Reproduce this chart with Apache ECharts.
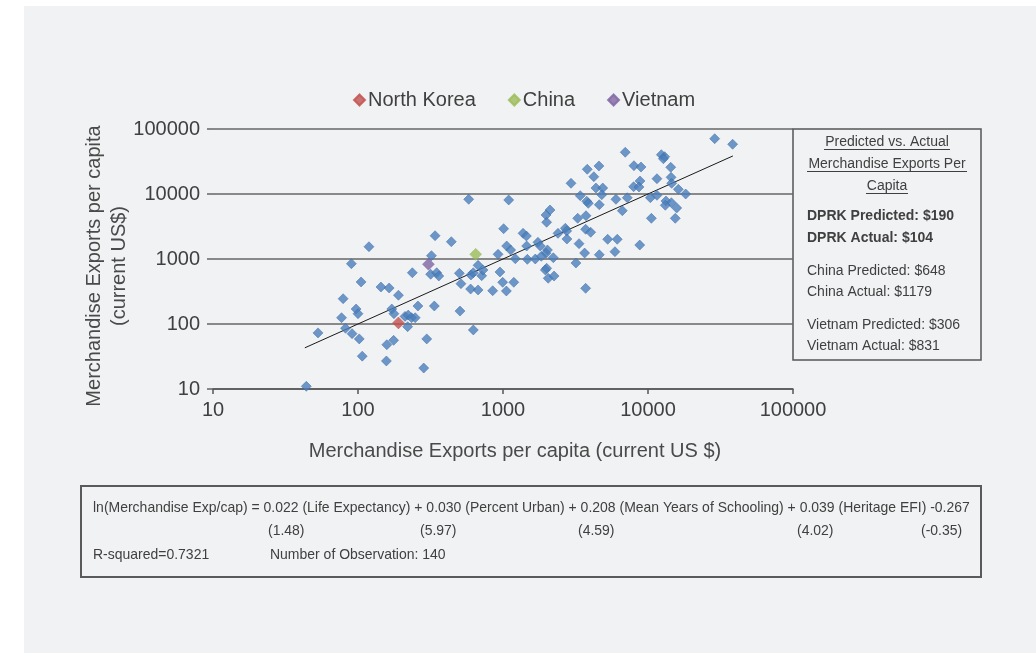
<!DOCTYPE html>
<html>
<head>
<meta charset="utf-8">
<script src="https://cdn.jsdelivr.net/npm/echarts@6/dist/echarts.min.js"></script>
<style>
  html, body { margin: 0; padding: 0; background: #fff; }
  #chart { width: 1036px; height: 653px; }
</style>
</head>
<body>
<div id="chart"></div>
<script>
// predicted (x) vs actual (y) merchandise exports per capita, current US$
const otherX = [340, 440, 119, 321, 925, 90, 673, 237, 317, 349, 361, 500, 513, 601, 624, 713, 728, 105, 144, 164,
  190, 79, 598, 673, 849, 97, 100, 171, 177, 259, 336, 505, 77, 211, 222, 234, 248, 220, 82, 53,
  91, 102, 624, 176, 158, 298, 107, 157, 284, 44, 953, 3810, 4590, 4230, 2945, 4375, 4875, 4800, 3410, 3780,
  3875, 4615, 6010, 580, 1095, 2110, 1980, 2000, 3275, 3735, 1010, 1375, 1450, 2395, 2690, 2750, 2760, 3715, 4025, 5270,
  6135, 3345, 1060, 1130, 1457, 1742, 1806, 2025, 1980, 3655, 4615, 5915, 1216, 1472, 1670, 1837, 2223, 3185, 995, 1187,
  1055, 2000, 1958, 2050, 2250, 3715, 28840, 38350, 6965, 12360, 13030, 12760, 8000, 8950, 14350, 11530, 14420, 14560, 8810, 7960,
  8670, 16180, 18200, 7195, 10380, 11530, 13300, 14490, 13160, 15780, 6650, 10550, 15420, 8770]
const otherY = [2280, 1845, 1545, 1125, 1180, 847, 800, 615, 582, 615, 547, 603, 417, 568, 615, 553, 678, 443, 371, 358,
  277, 245, 345, 334, 325, 170, 144, 170, 144, 189, 189, 158, 125, 131, 137, 125, 125, 91, 86, 73,
  71, 59, 81, 56, 48, 59, 32, 27, 21, 11, 631, 24000, 27000, 18450, 14620, 12360, 12360, 9750, 9420, 7730,
  7190, 6840, 8280, 8280, 8090, 5675, 4755, 3675, 4225, 4630, 2925, 2485, 2260, 2485, 2965, 2700, 2030, 2865, 2575, 2010,
  2010, 1720, 1585, 1375, 1585, 1807, 1585, 1375, 1225, 1235, 1163, 1295, 1010, 988, 1000, 1100, 1047, 867, 438, 438,
  322, 719, 678, 505, 547, 354, 71000, 58200, 43850, 40270, 37500, 34900, 27220, 26000, 25760, 17180, 18060, 14620, 15850, 12940,
  12820, 11800, 10000, 8770, 8770, 9550, 7800, 7350, 6700, 6095, 5535, 4225, 4225, 1640]

const highlightNames = ['North Korea', 'China', 'Vietnam']
const highlightPredicted = [190, 648, 306]
const highlightActual = [104, 1179, 831]
const highlightColors = ['#c0504d', '#9bbb59', '#8064a2']

const fitLine = [43, 38500]
const tickLabels = ['10', '100', '1000', '10000', '100000']

const FONT = '"Liberation Sans", Arial, sans-serif'
const TXT = '#404040'

const chart = echarts.init(document.getElementById('chart'))

const others = otherX.map((x, i) => [x, otherY[i]])

const series = [
  {
    name: 'fit',
    type: 'line',
    data: fitLine.map(v => [v, v]),
    symbol: 'none',
    lineStyle: { color: '#1a1a1a', width: 1 },
    z: 1,
    silent: true
  },
  {
    name: 'Other',
    type: 'scatter',
    data: others,
    symbol: 'diamond',
    symbolSize: 10,
    itemStyle: { color: '#4a7ebb', borderColor: '#3c69a3', borderWidth: 0.6 },
    z: 2
  }
]
highlightNames.forEach((n, i) => {
  series.push({
    name: n,
    type: 'scatter',
    data: [[highlightPredicted[i], highlightActual[i]]],
    symbol: 'diamond',
    symbolSize: 12,
    itemStyle: { color: highlightColors[i], borderColor: highlightColors[i], borderWidth: 0.5 },
    z: 3
  })
})

const logLabel = v => tickLabels[Math.round(Math.log10(v)) - 1] || ''

// right-hand info box
const boxLines = [
  { t: 'DPRK Predicted: $190', y: 216, bold: true },
  { t: 'DPRK Actual: $104', y: 238, bold: true },
  { t: 'China Predicted: $648', y: 271 },
  { t: 'China Actual: $1179', y: 292 },
  { t: 'Vietnam Predicted: $306', y: 325 },
  { t: 'Vietnam Actual: $831', y: 346 }
]
const titleLines = [
  { t: 'Predicted vs. Actual', y: 142, u: [824, 950] },
  { t: 'Merchandise Exports Per', y: 164, u: [807, 967] },
  { t: 'Capita', y: 186, u: [866, 908] }
]

const graphic = [
  { type: 'rect', shape: { x: 24, y: 6, width: 1012, height: 647 }, style: { fill: '#f1f2f4' }, z: -10, silent: true },
  { type: 'rect', shape: { x: 793, y: 129, width: 188, height: 231 }, style: { fill: 'none', stroke: '#555', lineWidth: 1.5 } },
  { type: 'rect', shape: { x: 81, y: 486, width: 900, height: 91 }, style: { fill: 'none', stroke: '#5a5a5a', lineWidth: 2 } },
  {
    type: 'text', x: 107, y: 266, rotation: Math.PI / 2,
    style: { text: 'Merchandise Exports per capita\n(current US$)', font: '20px ' + FONT, fill: '#4a4a4a', textAlign: 'center', textVerticalAlign: 'middle', lineHeight: 25 }
  },
  {
    type: 'text', x: 515, y: 451,
    style: { text: 'Merchandise Exports per capita (current US $)', font: '20px ' + FONT, fill: '#4a4a4a', textAlign: 'center', textVerticalAlign: 'middle' }
  }
]
titleLines.forEach(l => {
  graphic.push({ type: 'text', x: 887, y: l.y, style: { text: l.t, font: '14px ' + FONT, fill: TXT, textAlign: 'center', textVerticalAlign: 'middle' } })
  graphic.push({ type: 'line', shape: { x1: l.u[0], y1: l.y + 7.5, x2: l.u[1], y2: l.y + 7.5 }, style: { stroke: TXT, lineWidth: 1 } })
})
boxLines.forEach(l => {
  graphic.push({ type: 'text', x: 807, y: l.y, style: { text: l.t, font: (l.bold ? 'bold ' : '') + '14px ' + FONT, fill: TXT, textAlign: 'left', textVerticalAlign: 'middle' } })
})

// regression equation box (condensed look: larger font squeezed horizontally)
const eqFont = '15px ' + FONT
const eqTexts = [
  { t: 'ln(Merchandise Exp/cap) = 0.022 (Life Expectancy) + 0.030 (Percent Urban) + 0.208 (Mean Years of Schooling) + 0.039 (Heritage EFI) -0.267', x: 93, y: 508 },
  { t: '(1.48)', x: 268, y: 531 },
  { t: '(5.97)', x: 420, y: 531 },
  { t: '(4.59)', x: 578, y: 531 },
  { t: '(4.02)', x: 797, y: 531 },
  { t: '(-0.35)', x: 921, y: 531 },
  { t: 'R-squared=0.7321', x: 93, y: 555 },
  { t: 'Number of Observation: 140', x: 270, y: 555 }
]
eqTexts.forEach(l => {
  graphic.push({ type: 'text', x: l.x, y: l.y, scaleX: 0.932, style: { text: l.t, font: eqFont, fill: TXT, textAlign: 'left', textVerticalAlign: 'middle' } })
})

const option = {
  animation: false,
  grid: { left: 213, right: 243, top: 129, bottom: 264 },
  legend: {
    data: highlightNames,
    left: 348, top: 85,
    icon: 'diamond',
    itemWidth: 11, itemHeight: 11, itemGap: 32,
    textStyle: { fontSize: 20, color: TXT, fontFamily: FONT, padding: [0, 0, 0, -2] }
  },
  xAxis: {
    type: 'log', logBase: 10, min: 10, max: 100000,
    axisLine: { show: true, lineStyle: { color: '#555', width: 1.5 } },
    axisTick: { show: true, length: 5, lineStyle: { color: '#555', width: 1.5 } },
    axisLabel: { color: TXT, fontSize: 20, fontFamily: FONT, margin: 11, formatter: logLabel },
    splitLine: { show: false },
    minorTick: { show: false }
  },
  yAxis: {
    type: 'log', logBase: 10, min: 10, max: 100000,
    axisLine: { show: false },
    axisTick: { show: true, length: 6, lineStyle: { color: '#666', width: 1.5 } },
    axisLabel: { color: TXT, fontSize: 20, fontFamily: FONT, margin: 13, formatter: logLabel },
    splitLine: { show: true, lineStyle: { color: '#666', width: 1.5 } }
  },
  series: series,
  graphic: graphic
}

chart.setOption(option)
</script>
</body>
</html>
